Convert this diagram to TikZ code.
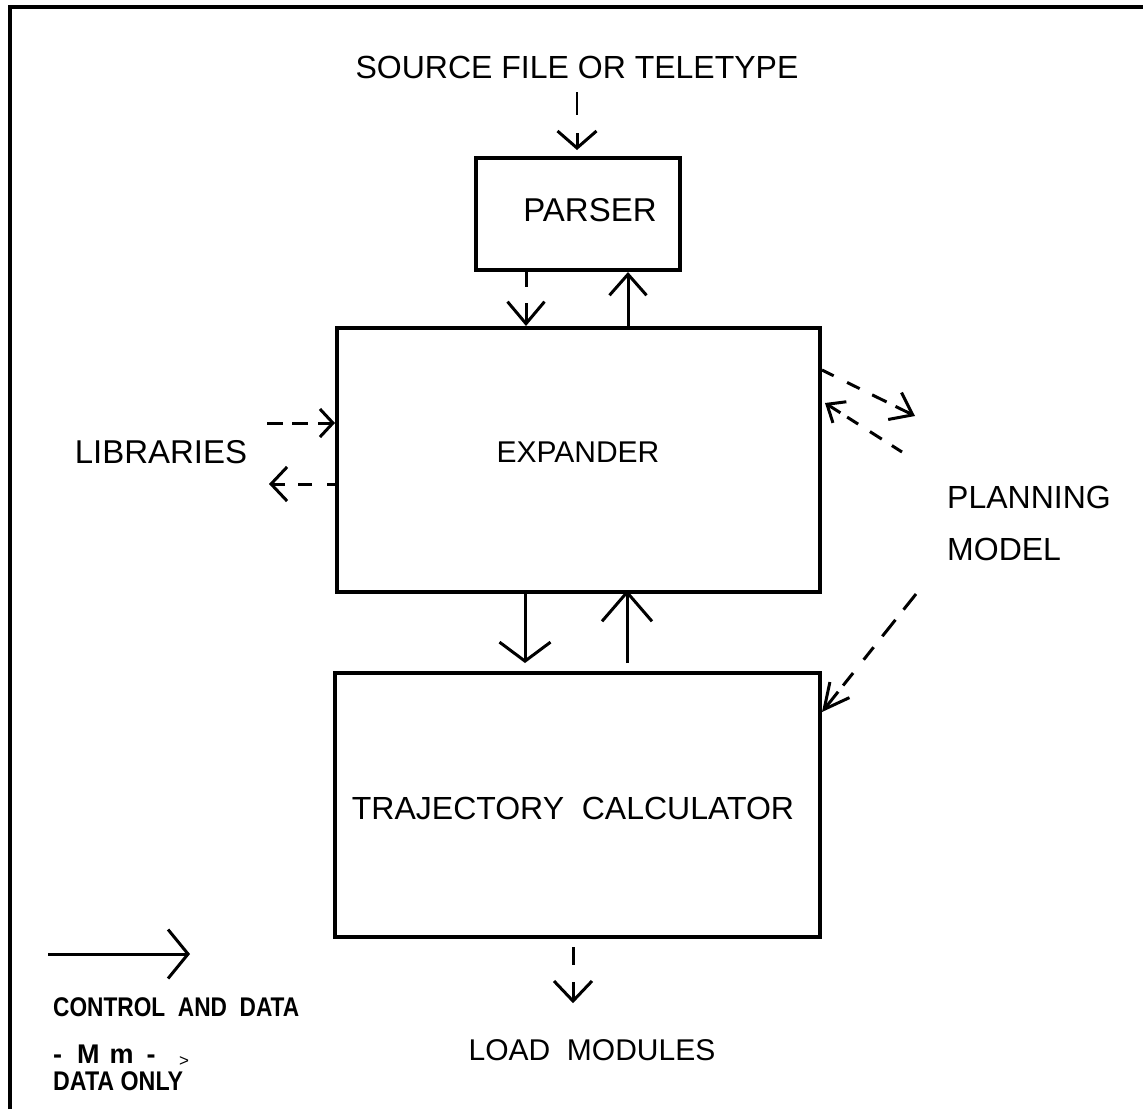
\documentclass[tikz,border=0pt]{standalone}
\usepackage{fontspec}
\setmainfont{Liberation Sans}
\usetikzlibrary{arrows.meta}

\begin{document}
\begin{tikzpicture}[x=1pt,y=-1pt,
  box/.style={draw,line width=4pt,inner sep=0pt},
  lbl/.style={inner sep=0pt,font=\fontsize{32}{38}\selectfont},
  legend/.style={inner sep=0pt,anchor=west,font=\fontsize{27}{30}\selectfont\bfseries},
  flow/.style={line width=3pt},
  barb/.style 2 args={-{Straight Barb[length=#1,width=#2]}},
]
% page area
\fill[white] (0,0) rectangle (1143,1109);
\useasboundingbox (0,0) rectangle (1143,1109);

% frame (top and left edges)
\draw[line width=3.5pt] (10,1109) -- (10,7) -- (1143,7);

% blocks
\node[box,minimum width=204pt,minimum height=112pt] (parser) at (578,214) {};
\node[box,minimum width=483pt,minimum height=264pt] (expander) at (578.5,460) {};
\node[box,minimum width=485pt,minimum height=264pt] (traj) at (577.5,805) {};

% texts
\node[lbl,font=\fontsize{33}{38}\selectfont] (parserlbl) at (590,210) {PARSER};
\node[lbl,font=\fontsize{30}{38}\selectfont] (expanderlbl) at (578,452) {EXPANDER};
\node[lbl] (trajlbl) at (573,808) {TRAJECTORY\ \ CALCULATOR};
\node[lbl] (source) at (577,67) {SOURCE FILE OR TELETYPE};
\node[lbl,font=\fontsize{33}{38}\selectfont] (libs) at (161,452) {LIBRARIES};
\node[lbl,align=left,anchor=west,font=\fontsize{32}{52}\selectfont] (planning) at (947,523) {PLANNING\\MODEL};
\node[lbl,font=\fontsize{30}{38}\selectfont] (load) at (592,1050) {LOAD\ \ MODULES};

% helper coordinates
\coordinate (srcA) at (577,92);
\coordinate (srcB) at (577,115);
\coordinate (srcC) at (577,133);
\coordinate (xa) at (526,0);
\coordinate (xb) at (628,0);
\coordinate (xc) at (525,0);
\coordinate (xd) at (627,0);
\coordinate (xe) at (573,0);
\coordinate (libA) at (267,423);
\coordinate (libB) at (269,484);
\coordinate (pA) at (820,370);
\coordinate (pB) at (915,416);
\coordinate (pC) at (902,452);
\coordinate (pD) at (825,403);
\coordinate (pE) at (916,594);
\coordinate (pF) at (820,712);
\coordinate (legA) at (48,954);
\coordinate (legB) at (190,954);

% input to the parser
\draw[line width=1.5pt] (srcA) -- (srcB);
\draw[flow,barb={17pt}{39pt}] (srcC) -- ([yshift=6pt]parser.north -| srcC);

% parser <-> expander
\draw[flow,dash pattern=on 15pt off 16pt on 80pt,barb={22pt}{37pt}]
  (parser.south -| xa) -- (expander.north -| xa);
\draw[flow,barb={21pt}{37pt}] (expander.north -| xb) -- (parser.south -| xb);

% expander <-> trajectory calculator
\draw[flow,barb={19pt}{51pt}] (expander.south -| xc) -- ([yshift=8pt]traj.north -| xc);
\draw[flow,barb={29pt}{50pt}] ([yshift=8pt]traj.north -| xd) -- ([yshift=4pt]expander.south -| xd);

% output
\draw[flow,dash pattern=on 18pt off 17pt on 80pt,barb={20pt}{38pt}]
  ([yshift=-8pt]traj.south -| xe) -- ([yshift=36pt]load.north -| xe);

% libraries
\draw[flow,dash pattern=on 16pt off 9pt on 16pt off 10pt on 60pt,barb={13pt}{28pt}]
  (libA) -- (expander.west |- libA);
\draw[flow,dash pattern=on 8pt off 15pt on 14pt off 13pt on 60pt,barb={16pt}{34pt}]
  (expander.west |- libB) -- (libB);

% planning model
\draw[flow,dash pattern=on 13pt off 15pt on 14pt off 14pt on 16pt off 10pt on 60pt,barb={20pt}{30pt}]
  (expander.east |- pA) -- (pB);
\draw[flow,dash pattern=on 12pt off 12pt on 14pt off 14pt on 13pt off 8pt on 60pt,barb={15pt}{25pt}]
  (pC) -- (pD);
\draw[flow,dash pattern=on 20pt off 13pt on 21pt off 14pt on 16pt off 17pt on 16pt off 8pt on 60pt,barb={25pt}{25pt}]
  (pE) -- (traj.east |- pF);

% legend
\draw[flow,barb={20pt}{49pt}] (legA) -- (legB);
\node[legend] (lgcd) at (53,1007) {\scalebox{0.84}[1]{CONTROL\ \ AND\ \ DATA}};
\node[legend] (lgdash) at (53,1054) {-\hspace{15pt}M\hspace{10pt}m\hspace{13pt}-};
\node[legend] (lgdata) at (53,1081) {\scalebox{0.86}[1]{DATA ONLY}};
\node[inner sep=0pt,font=\fontsize{17}{20}\selectfont] (lggt) at (184,1062) {>};
\end{tikzpicture}
\end{document}
